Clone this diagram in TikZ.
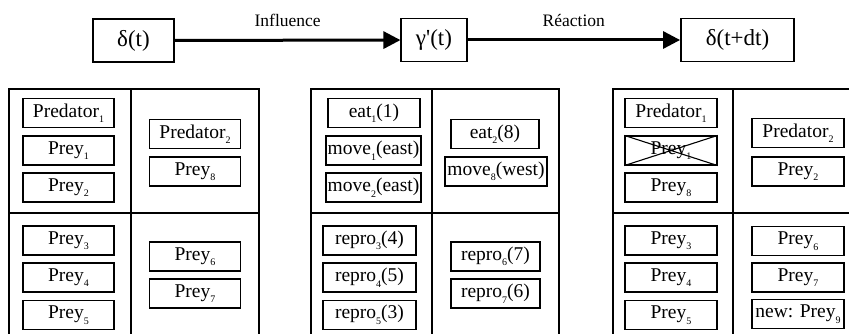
\documentclass[tikz,border=0pt]{standalone}
\usepackage{fontspec}
\setmainfont{Liberation Serif}
\newfontfamily\plainfont{Liberation Serif}
\usetikzlibrary{arrows.meta}

% low, small index as in the scan
\newcommand{\idx}[1]{\raisebox{-5.5pt}{\fontsize{10}{10}\selectfont #1}}

\begin{document}
\begin{tikzpicture}[x=1pt,y=-1pt,
	state/.style={draw,line width=1.8pt,minimum height=43pt,inner sep=0pt,font=\fontsize{23}{25}\selectfont},
	agent/.style={draw,line width=1.1pt,minimum height=29pt,inner sep=0pt,font=\fontsize{19.5}{21}\selectfont},
	cell/.style={line width=1.3pt},
	flow/.style={line width=3pt,-{Triangle[length=17pt,width=17pt]}},
	tag/.style={midway,above=12pt,inner sep=0pt,font=\fontsize{17.5}{19}\selectfont}]
				\clip (0,0) rectangle (849,334);
				
				% Draw the time line
				\node[state,minimum width=81pt] (dt) at (133.5,40.5) {δ(t)};
				\node[state,line width=1.1pt,minimum width=66pt] (gp) at (434,40) {γ{\plainfont '}(t)};
				\node[state,minimum width=113pt] (dtdt) at (737.5,40) {δ(t+dt)};
				\draw[flow] (dt) -- (gp) node[tag] {Influence};
				\draw[flow] (gp) -- (dtdt) node[tag] {Réaction};
				
				% Draw the three grids
				\foreach \l/\m/\r in {9/131/259, 311/432/559, 613/733/861} {
					\draw[cell] (\l,334) -- (\l,89) -- (\r,89) -- (\r,334);
					\draw[cell] (\m,89) -- (\m,334);
					\draw[cell] (\l,213) -- (\r,213);
				}
				
				% State at t
				\foreach \n/\x/\y/\txt in {a1/68.5/113/Predator\idx{1}, a2/68.5/150.5/Prey\idx{1}, a3/68.5/187.5/Prey\idx{2},
					a4/195/134/Predator\idx{2}, a5/195/171.5/Prey\idx{8},
					a6/68.5/240.5/Prey\idx{3}, a7/68.5/277.5/Prey\idx{4}, a8/68.5/315/Prey\idx{5},
					a9/195/256.5/Prey\idx{6}, a10/195/293.5/Prey\idx{7}}
				\node[agent,minimum width=91pt] (\n) at (\x,\y) {\txt};
				
				% Influences
				\node[agent,minimum width=92pt] (i1) at (374,113) {eat\idx{1}(1)};
				\foreach \n/\y/\txt in {i2/150.5/move\idx{1}(east), i3/187.5/move\idx{2}(east)}
				\node[agent,minimum width=95pt] (\n) at (373.5,\y) {\txt};
				\node[agent,minimum width=88pt] (i4) at (495,134) {eat\idx{2}(8)};
				\node[agent,minimum width=102pt] (i5) at (496,171.5) {move\idx{8}(west)};
				\foreach \n/\y/\txt in {i6/240.5/repro\idx{3}(4), i7/277.5/repro\idx{4}(5), i8/315/repro\idx{5}(3)}
				\node[agent,minimum width=93pt] (\n) at (369.5,\y) {\txt};
				\foreach \n/\y/\txt in {i9/256.5/repro\idx{6}(7), i10/293.5/repro\idx{7}(6)}
				\node[agent,minimum width=89pt] (\n) at (495.5,\y) {\txt};
				
				% State at t+dt
				\foreach \n/\x/\y/\txt in {b1/671/113/Predator\idx{1}, b2/671/150.5/Prey\idx{1}, b3/671/187.5/Prey\idx{8},
					b4/798/133/Predator\idx{2}, b5/798/171.5/Prey\idx{2},
					b6/671/240.5/Prey\idx{3}, b7/671/277.5/Prey\idx{4}, b8/671/315/Prey\idx{5},
					b9/798/241/Prey\idx{6}, b10/798/277.5/Prey\idx{7}, b11/798/314/new: Prey\idx{9}}
				\node[agent,minimum width=92pt] (\n) at (\x,\y) {\txt};
				
				% Eaten prey
				\draw[line width=1.1pt] (b2.north west) -- (b2.south east) (b2.south west) -- (b2.north east);
\end{tikzpicture}
\end{document}
